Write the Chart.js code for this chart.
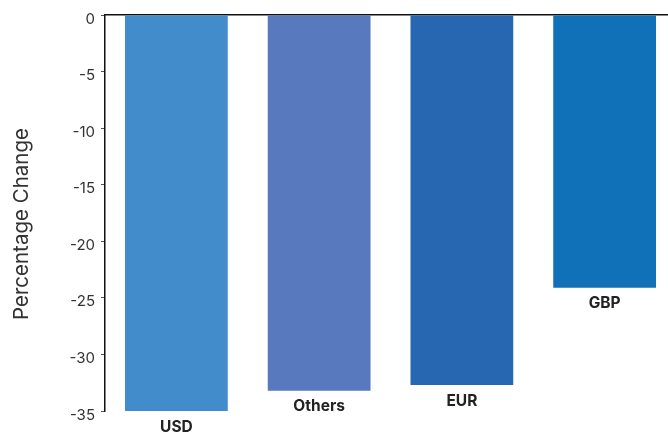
<!DOCTYPE html>
<html>
<head>
<meta charset="utf-8">
<script src="https://cdn.jsdelivr.net/npm/chart.js@4"></script>
<style>
html,body{margin:0;padding:0;background:#fff;overflow:hidden;width:668px;height:434px;}
#wrap{width:680px;height:434px;position:relative;}
</style>
</head>
<body>
<div id="wrap"><canvas id="c" width="680" height="434"></canvas></div>
<script>
const categories = ["USD", "Others", "EUR", "GBP"];
const values = [-35, -33.2, -32.7, -24.1];
const barColors = ["#428CCB", "#5879BE", "#2767B1", "#1071B9"];
const yTitle = "Percentage Change";

const barLabels = {
  id: 'barLabels',
  afterDatasetsDraw(chart) {
    const ctx = chart.ctx;
    const meta = chart.getDatasetMeta(0);
    ctx.save();
    ctx.font = "bold 15.5px Inter, 'Open Sans', sans-serif";
    ctx.fillStyle = "#222";
    ctx.textAlign = "center";
    ctx.textBaseline = "middle";
    meta.data.forEach((bar, i) => {
      ctx.fillText(categories[i], bar.x, bar.y + 16);
    });
    // y-axis title
    ctx.save();
    ctx.translate(22, 224);
    ctx.rotate(-Math.PI / 2);
    ctx.font = "20.5px Inter, 'Open Sans', sans-serif";
    ctx.fillStyle = "#333";
    ctx.fillText(yTitle, 0, 0);
    ctx.restore();
    ctx.restore();
  }
};

new Chart(document.getElementById('c'), {
  type: 'bar',
  data: {
    labels: categories,
    datasets: [{
      data: values,
      backgroundColor: barColors,
      borderWidth: 0,
      barPercentage: 0.72,
      categoryPercentage: 1
    }]
  },
  options: {
    responsive: false,
    animation: false,
    layout: { padding: { top: 13, bottom: 23, left: 0, right: 4 } },
    plugins: { legend: { display: false }, tooltip: { enabled: false } },
    scales: {
      x: {
        position: 'top',
        grid: { display: false, drawTicks: false },
        ticks: { display: false },
        border: { display: true, color: '#111', width: 1.5 },
        afterFit(s) { s.height = 0; }
      },
      y: {
        min: -35, max: 0,
        ticks: { stepSize: 5, color: '#333', padding: 6, labelOffset: 4, font: { family: "Inter, 'Open Sans', sans-serif", size: 15 } },
        grid: { drawOnChartArea: false, drawTicks: true, tickLength: 4, color: '#555' },
        border: { display: true, color: '#111', width: 1.5 },
        title: { display: false, text: yTitle },
        afterFit(s) { s.width = 105; }
      }
    }
  },
  plugins: [barLabels]
});
</script>
</body>
</html>
